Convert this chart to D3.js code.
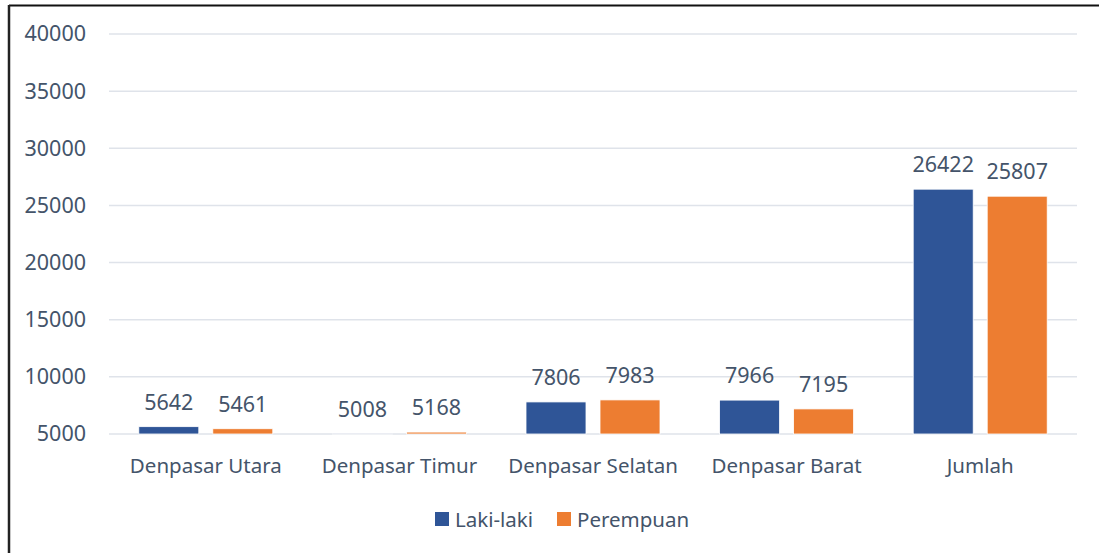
<!DOCTYPE html>
<html>
<head>
<meta charset="utf-8">
<script src="https://cdn.jsdelivr.net/npm/d3@7"></script>
<style>
  body { margin: 0; background: #fff; }
  svg { display: block; }
  svg text { font-family: "Noto Sans", "Open Sans", sans-serif; }
</style>
</head>
<body>
<div id="chart"></div>
<script>
var categories = ['Denpasar Utara', 'Denpasar Timur', 'Denpasar Selatan', 'Denpasar Barat', 'Jumlah']
var seriesNames = ['Laki-laki', 'Perempuan']
var lakiLaki = [5642, 5008, 7806, 7966, 26422]
var perempuan = [5461, 5168, 7983, 7195, 25807]
var yTicks = [5000, 10000, 15000, 20000, 25000, 30000, 35000, 40000]
var colors = ['#2f5597', '#ed7d31']

var width = 1099
var height = 553
var textColor = '#44546a'
var font = '"Noto Sans", "Open Sans", sans-serif'
var margin = { left: 109, right: 22, top: 34, bottom: 119 }

function go () {
  var svg = d3.select('#chart').append('svg').attr('width', width).attr('height', height)

  // frame (only top and left visible in the source)
  svg.append('line').attr('x1', 9).attr('x2', width).attr('y1', 5.5).attr('y2', 5.5)
    .style('stroke', '#111').style('stroke-width', 2)
  svg.append('line').attr('x1', 9).attr('x2', 9).attr('y1', 5).attr('y2', height)
    .style('stroke', '#222').style('stroke-width', 2.5)

  var x0 = d3.scaleBand().domain(categories).range([margin.left, width - margin.right])
  var y = d3.scaleLinear().domain([5000, 40000]).range([height - margin.bottom, margin.top])

  var grid = svg.append('g')
  grid.selectAll('line').data(yTicks).enter().append('line')
    .attr('x1', margin.left).attr('x2', width - margin.right)
    .attr('y1', d => y(d)).attr('y2', d => y(d))
    .style('stroke', '#dfe3ea').style('stroke-width', 1.5)

  var yAxis = d3.axisLeft(y).tickValues(yTicks).tickSize(0).tickPadding(0).tickFormat(d3.format('d'))
  var ya = svg.append('g').attr('transform', 'translate(86,0)').call(yAxis)
    .attr('font-family', font).attr('font-size', 21.5)
  ya.select('.domain').remove()
  ya.selectAll('text').style('fill', textColor)

  var xAxis = d3.axisBottom(x0).tickSize(0).tickPadding(0)
  var xa = svg.append('g').attr('transform', 'translate(0,' + (height - margin.bottom) + ')').call(xAxis)
    .attr('font-family', font).attr('font-size', 20.5)
  xa.select('.domain').remove()
  xa.selectAll('text').attr('dy', 0).attr('y', 39).style('fill', textColor)

  var x1 = d3.scaleOrdinal().domain([0, 1]).range([-67, 7])
  var barW = 60
  var data = []
  categories.forEach(function (c, i) {
    data.push({ cat: c, s: 0, v: lakiLaki[i] })
    data.push({ cat: c, s: 1, v: perempuan[i] })
  })

  var g = svg.append('g')
  g.selectAll('rect').data(data).enter().append('rect')
    .attr('x', d => x0(d.cat) + x0.bandwidth() / 2 + x1(d.s))
    .attr('width', barW)
    .attr('y', d => y(d.v))
    .attr('height', d => y(5000) - y(d.v))
    .style('fill', d => colors[d.s])
    .style('stroke', '#fff').style('stroke-width', 0.8)

  g.selectAll('text').data(data).enter().append('text')
    .attr('x', d => x0(d.cat) + x0.bandwidth() / 2 + x1(d.s) + barW / 2)
    .attr('y', d => y(d.v) - 17)
    .attr('text-anchor', 'middle')
    .style('font-size', '21.5px').style('fill', textColor)
    .text(d => d.v)

  var legend = svg.append('g').attr('transform', 'translate(435,512)')
  var offsets = [0, 122]
  seriesNames.forEach(function (n, i) {
    var lg = legend.append('g').attr('transform', 'translate(' + offsets[i] + ',0)')
    lg.append('rect').attr('width', 14).attr('height', 14).style('fill', colors[i])
    lg.append('text').attr('x', 20).attr('y', 14.5).style('font-size', '20.5px').style('fill', textColor).text(n)
  })
}

document.addEventListener('DOMContentLoaded', go)
</script>
</body>
</html>
